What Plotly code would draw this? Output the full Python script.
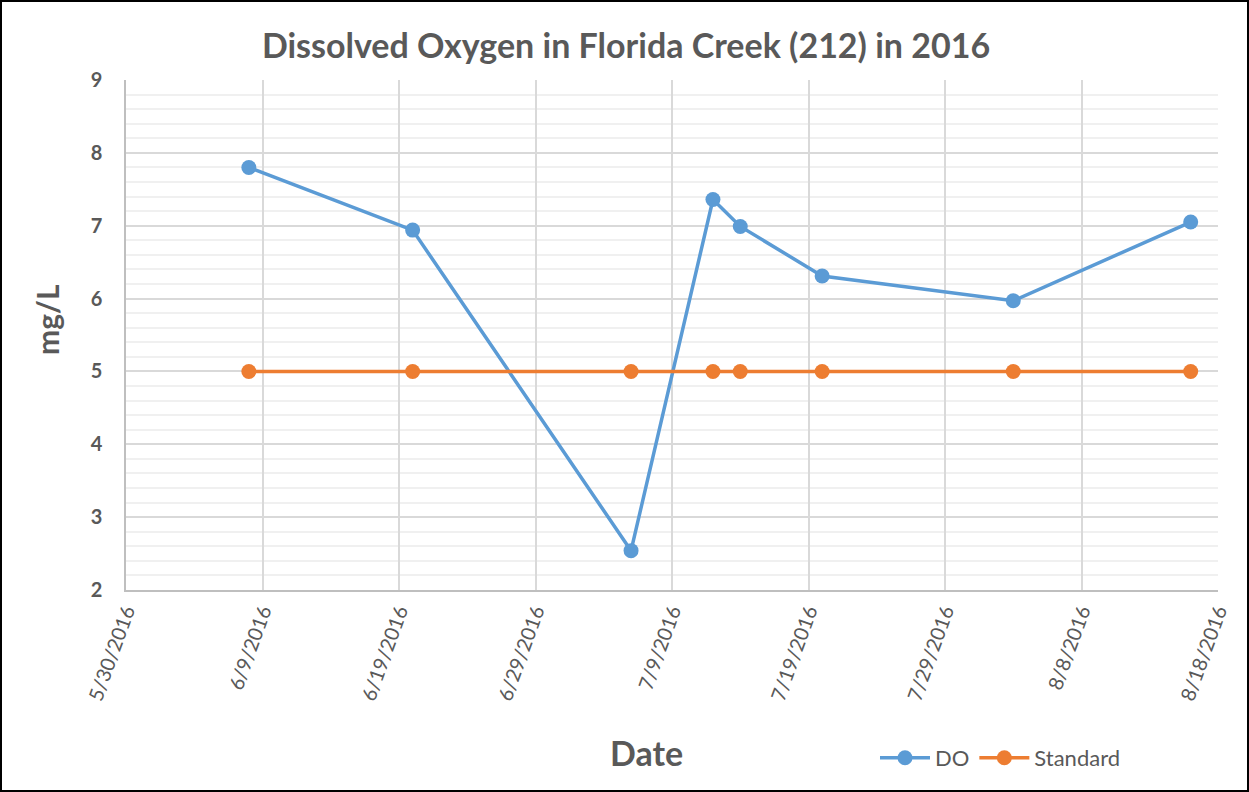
import plotly.graph_objects as go

dates = ["2016-06-08", "2016-06-20", "2016-07-06", "2016-07-12", "2016-07-14",
         "2016-07-20", "2016-08-03", "2016-08-16"]
do_values = [7.80, 6.94, 2.54, 7.36, 6.99, 6.31, 5.97, 7.05]
standard_values = [5, 5, 5, 5, 5, 5, 5, 5]

W, H = 1249, 792
L, R, T, B = 126, 31, 80, 202
pw, ph = W - L - R, H - T - B

fig = go.Figure()
fig.add_trace(go.Scatter(x=dates, y=do_values, mode="lines+markers", name="DO",
                         line=dict(color="#5B9BD5", width=3.5),
                         marker=dict(color="#5B9BD5", size=15)))
fig.add_trace(go.Scatter(x=dates, y=standard_values, mode="lines+markers", name="Standard",
                         line=dict(color="#ED7D31", width=3.5),
                         marker=dict(color="#ED7D31", size=15)))

font_fam = "Lato, 'Open Sans', sans-serif"
fig.update_layout(
    width=W, height=H,
    margin=dict(l=L, r=R, t=T, b=B),
    paper_bgcolor="white", plot_bgcolor="white",
    font=dict(family=font_fam, color="#595959"),
    title=dict(text="<b>Dissolved Oxygen in Florida Creek (212) in 2016</b>",
               x=626 / W, xanchor="center", y=1 - 46 / H, yanchor="middle",
               font=dict(size=34, color="#595959")),
    showlegend=True,
    legend=dict(orientation="h", x=(875 - L) / pw, xanchor="left",
                y=-(758 - (T + ph)) / ph, yanchor="middle",
                font=dict(size=22, color="#595959"), itemwidth=50,
                bgcolor="rgba(0,0,0,0)"),
    xaxis=dict(type="date", range=["2016-05-30", "2016-08-18"],
               tick0="2016-05-30", dtick=10 * 86400000, tickformat="%-m/%-d/%Y",
               tickangle=-70, tickfont=dict(size=20, color="#595959"),
               showgrid=True, gridcolor="#D9D9D9", gridwidth=1.5,
               showline=True, linecolor="#BFBFBF", linewidth=1.5,
               ticks="", zeroline=False, mirror=False),
    yaxis=dict(range=[2, 9], dtick=1, tickfont=dict(size=20, color="#595959"),
               tickprefix="<b>", ticksuffix="</b>",
               showgrid=True, gridcolor="#D9D9D9", gridwidth=1.5,
               minor=dict(dtick=0.2, showgrid=True, gridcolor="#F0F0F0", gridwidth=1.5),
               showline=True, linecolor="#BFBFBF", linewidth=1.5,
               ticks="", zeroline=False, ticklabelstandoff=18),
)

fig.add_annotation(text="<b>Date</b>", xref="paper", yref="paper",
                   x=(646 - L) / pw, y=-(752 - (T + ph)) / ph,
                   xanchor="center", yanchor="middle", showarrow=False,
                   font=dict(size=34, color="#595959"))
fig.add_annotation(text="<b>mg/L</b>", xref="paper", yref="paper",
                   x=-(L - 47) / pw, y=1 - (319 - T) / ph, textangle=-90,
                   xanchor="center", yanchor="middle", showarrow=False,
                   font=dict(size=30, color="#595959"))

# outer chart border
fig.add_shape(type="rect", xref="paper", yref="paper",
              x0=-(L - 1) / pw, x1=1 + (R - 1) / pw,
              y0=-(B - 1) / ph, y1=1 + (T - 1) / ph,
              line=dict(color="black", width=2), fillcolor="rgba(0,0,0,0)", layer="above")

fig.write_html("out.html", config={"displayModeBar": False},
               post_script="document.body.style.margin='0';")
